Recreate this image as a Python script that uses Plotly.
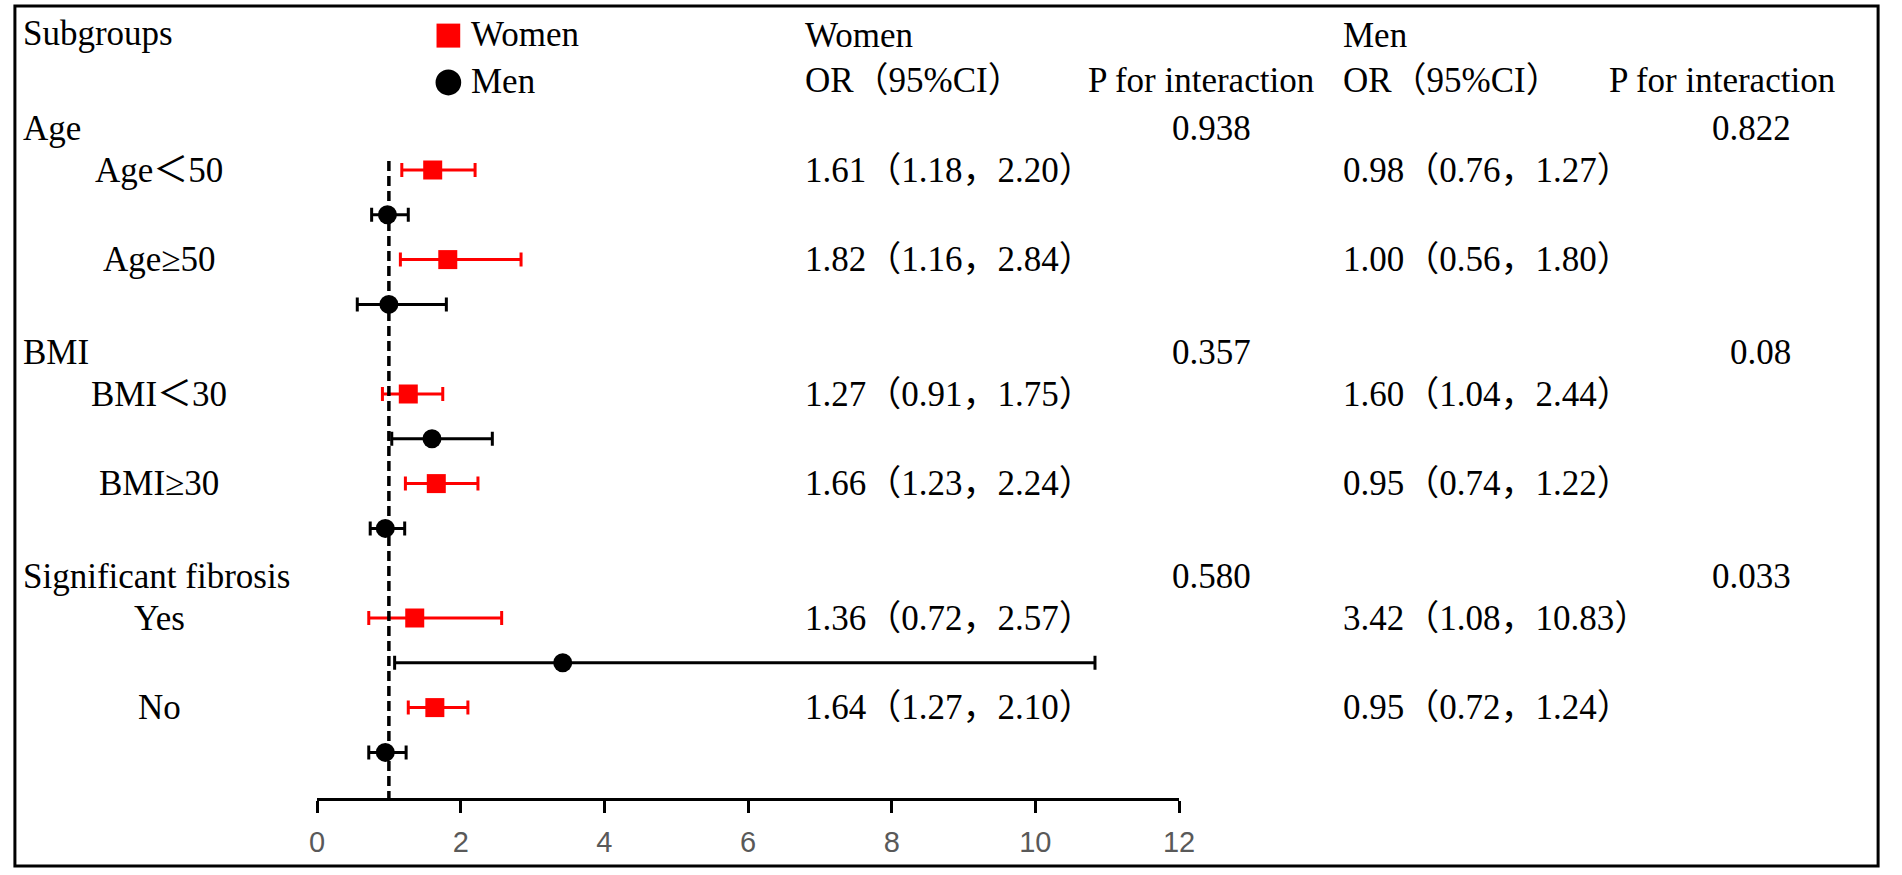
import plotly.graph_objects as go

# subgroup data
groups = ["Age", "BMI", "Significant fibrosis"]
subgroups = ["Age＜50", "Age≥50", "BMI＜30", "BMI≥30", "Yes", "No"]

women_or = [1.61, 1.82, 1.27, 1.66, 1.36, 1.64]
women_lo = [1.18, 1.16, 0.91, 1.23, 0.72, 1.27]
women_hi = [2.20, 2.84, 1.75, 2.24, 2.57, 2.10]

men_or = [0.98, 1.00, 1.60, 0.95, 3.42, 0.95]
men_lo = [0.76, 0.56, 1.04, 0.74, 1.08, 0.72]
men_hi = [1.27, 1.80, 2.44, 1.22, 10.83, 1.24]

p_women = ["0.938", "0.357", "0.580"]
p_men = ["0.822", "0.08", "0.033"]

x_ticks = [0, 2, 4, 6, 8, 10, 12]

W, H = 1902, 875
FONT = "Liberation Serif, Times New Roman, Noto Sans CJK SC, serif"
FS = 35

# row layout: each group has a header row then women/men rows per subgroup
group_rows = [2 + 5 * g for g in range(len(groups))]
women_rows = []
men_rows = []
for g in range(len(groups)):
    for j in range(2):
        women_rows.append(group_rows[g] + 1 + 2 * j)
        men_rows.append(group_rows[g] + 2 + 2 * j)

# pixel mapping for rows: p = top + step * row
top, step = 35.6, 44.8
y_range = [(H - top) / step, -top / step]


def px(x):
    return x / W


def py(y):
    return 1 - y / H


fig = go.Figure()

fig.add_trace(go.Scatter(
    x=women_or, y=women_rows, mode="markers", name="Women",
    marker=dict(symbol="square", size=19, color="#ff0000"),
    error_x=dict(type="data", symmetric=False,
                 array=[h - o for h, o in zip(women_hi, women_or)],
                 arrayminus=[o - l for o, l in zip(women_or, women_lo)],
                 color="#ff0000", thickness=3, width=7),
    cliponaxis=False, showlegend=False,
))
fig.add_trace(go.Scatter(
    x=men_or, y=men_rows, mode="markers", name="Men",
    marker=dict(symbol="circle", size=19, color="#000000"),
    error_x=dict(type="data", symmetric=False,
                 array=[h - o for h, o in zip(men_hi, men_or)],
                 arrayminus=[o - l for o, l in zip(men_or, men_lo)],
                 color="#000000", thickness=3, width=7),
    cliponaxis=False, showlegend=False,
))

ann = []


def txt(s, x, row, anchor="left"):
    ann.append(dict(text=s, x=px(x), y=row, xref="paper", yref="y",
                    xanchor=anchor, yanchor="middle", showarrow=False,
                    font=dict(family=FONT, size=FS, color="#000")))


# column headers
txt("Subgroups", 13, -0.05)
txt("Women", 805, 0)
txt("OR（95%CI）", 805, 1)
txt("P for interaction", 1208, 1, "center")
txt("Men", 1350, 0)
txt("OR（95%CI）", 1350, 1)
txt("P for interaction", 1736, 1, "center")

# legend labels
txt("Women", 467, -0.02)
txt("Men", 467, 1.02)

for g, name in enumerate(groups):
    txt(name, 13, group_rows[g] + 0.08)
    txt(p_women[g], 1261, group_rows[g] + 0.08, "right")
    txt(p_men[g], 1808, group_rows[g] + 0.08, "right")

for i, name in enumerate(subgroups):
    r = women_rows[i]
    txt(name, 153, r, "center")
    txt(f"{women_or[i]:.2f}（{women_lo[i]:.2f}，{women_hi[i]:.2f}）", 805, r)
    txt(f"{men_or[i]:.2f}（{men_lo[i]:.2f}，{men_hi[i]:.2f}）", 1350, r)

axis_px = 799
leg_y0 = top
leg_y1 = top + step + 2
fig.update_layout(
    width=W, height=H,
    margin=dict(l=0, r=0, t=0, b=0),
    paper_bgcolor="white", plot_bgcolor="white",
    annotations=ann,
    showlegend=False,
    xaxis=dict(domain=[px(313), px(1186)], range=[0, 12],
               tickvals=x_ticks, ticks="outside", ticklen=12, tickwidth=3,
               tickcolor="#000", showline=True, linecolor="#000", linewidth=3,
               showgrid=False, zeroline=False, anchor="free",
               position=(H - axis_px) / H, ticklabelstandoff=4,
               tickfont=dict(family="Liberation Sans, Arial", size=29,
                             color="#595959")),
    yaxis=dict(domain=[0, 1], range=y_range, visible=False),
    shapes=[
        # reference line at OR = 1
        dict(type="line", xref="x", yref="y", x0=1, x1=1,
             y0=(161 - top) / step, y1=(axis_px - top) / step,
             line=dict(color="#000", width=3.5, dash="10px,5px")),
        # legend symbols
        dict(type="rect", xref="paper", yref="paper",
             x0=px(434), x1=px(458), y0=py(leg_y0 - 12), y1=py(leg_y0 + 12),
             fillcolor="#ff0000", line=dict(width=0)),
        dict(type="circle", xref="paper", yref="paper",
             x0=px(433), x1=px(459), y0=py(leg_y1 - 13), y1=py(leg_y1 + 13),
             fillcolor="#000000", line=dict(width=0)),
        # outer frame
        dict(type="rect", xref="paper", yref="paper",
             x0=px(7), x1=px(1894), y0=py(866), y1=py(6),
             line=dict(color="#000", width=3)),
    ],
)

fig.write_html("out.html", config={"displayModeBar": False},
               post_script="document.body.style.margin='0';"
                           "document.body.style.overflow='hidden';")
